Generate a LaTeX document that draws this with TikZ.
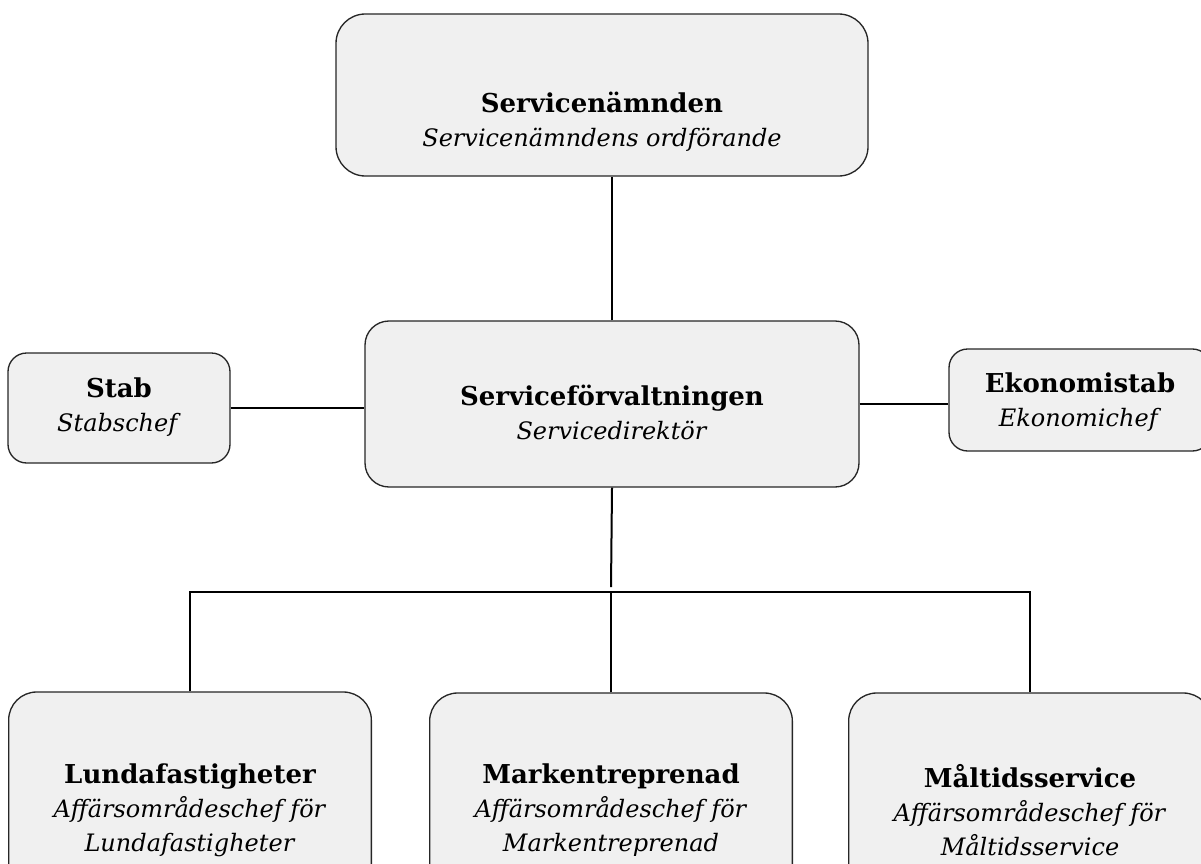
\documentclass[tikz,border=0pt]{standalone}
\usepackage{fontspec}
\setmainfont{DejaVu Serif}
\newcommand{\orgtitle}[1]{{\fontsize{19.5}{25.5}\selectfont\bfseries #1}}

\begin{document}
\begin{tikzpicture}
[x=0.75pt,y=-0.75pt,%
  box/.style={draw=black!85,fill=black!6,line width=1pt,rounded corners=#1},%
  box/.default=14pt,%
  txt/.style={align=center,inner sep=0pt,font=\fontsize{18}{25.5}\selectfont},%
  link/.style={line width=1.5pt}]
\useasboundingbox (0,0) rectangle (1201,863);
\node[box=22pt,minimum width=399pt,minimum height=121.5pt] (namnd) at (602,95) {};
\node[box=18pt,minimum width=370.5pt,minimum height=124.5pt] (forv) at (612,404) {};
\node[box,minimum width=166.5pt,minimum height=82.5pt] (stab) at (119,408) {};
\node[box,minimum width=196.5pt,minimum height=76.5pt] (eko) at (1080,400) {};
\node[box=21pt,minimum width=272pt,minimum height=177pt] (lunda) at (190,810) {};
\node[box=21pt,minimum width=272pt,minimum height=177pt] (mark) at (611,811) {};
\node[box=21pt,minimum width=272pt,minimum height=177pt] (malt) at (1030,811) {};

\node[txt] (namndtxt) at (602,122) {\orgtitle{Servicenämnden}\\\textit{Servicenämndens ordförande}};
\node[txt] (forvtxt) at (612,412) {\orgtitle{Serviceförvaltningen}\\\textit{Servicedirektör}};
\node[txt] (stabtxt) at (119,407) {\orgtitle{Stab}\\\textit{Stabschef}};
\node[txt] (ekotxt) at (1080,402) {\orgtitle{Ekonomistab}\\\textit{Ekonomichef}};
\node[txt] (lundatxt) at (190,810) {\orgtitle{Lundafastigheter}\\\textit{Affärsområdeschef för}\\\textit{Lundafastigheter}};
\node[txt] (marktxt) at (611,810) {\orgtitle{Markentreprenad}\\\textit{Affärsområdeschef för}\\\textit{Markentreprenad}};
\node[txt] (malttxt) at (1030,810) {\orgtitle{Måltidsservice}\\\textit{Affärsområdeschef för}\\\textit{Måltidsservice}};

\coordinate (fork) at (611,592);
\draw[link] (forv.north) -- (forv.north |- namnd.south);
\draw[link] (stab.east) -- (stab.east -| forv.west);
\draw[link] (forv.east) -- (forv.east -| eko.west);
\draw[link] (forv.south) -- ([yshift=3.75pt]fork);
\draw[link] (lunda.north) -- (lunda.north |- fork) -- (malt.north |- fork) -- (malt.north);
\draw[link] (mark.north) -- (mark.north |- fork);
\end{tikzpicture}
\end{document}
